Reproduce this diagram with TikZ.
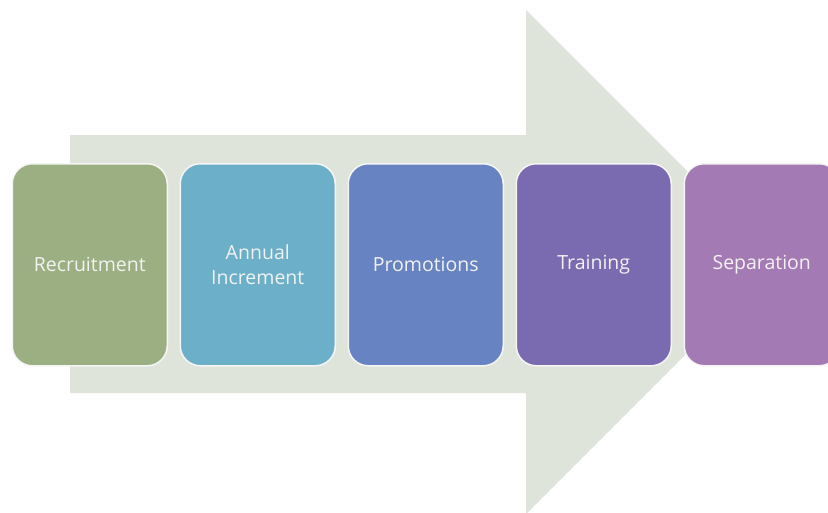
\documentclass[tikz,border=0pt]{standalone}
\usepackage{fontspec}
\setmainfont{Open Sans}
\usetikzlibrary{positioning}
\definecolor{ArrowClr}{rgb}{0.875,0.894,0.855}
\definecolor{RecClr}{rgb}{0.612,0.686,0.510}
\definecolor{IncClr}{rgb}{0.420,0.686,0.788}
\definecolor{ProClr}{rgb}{0.408,0.514,0.761}
\definecolor{TrnClr}{rgb}{0.478,0.416,0.686}
\definecolor{SepClr}{rgb}{0.639,0.478,0.706}
\definecolor{TextClr}{rgb}{0.95,0.95,0.95}

\tikzset{
  stage/.style={draw=white!92!gray,line width=1.5pt,rounded corners=20pt,
    minimum width=155pt,minimum height=202pt,inner sep=2pt,
    text=TextClr,font=\fontsize{19.5}{25}\selectfont,align=center},
}

\begin{document}
\begin{tikzpicture}[x=1pt,y=-1pt]
\useasboundingbox (0,0) rectangle (828,512);
\clip (0,0) rectangle (828,512);

% big background arrow
\fill[ArrowClr] (70,135) -- (526,135) -- (526,10) -- (778,262)
  -- (526,514) -- (526,393) -- (70,393) -- cycle;

% process stages
\node[stage,fill=RecClr,anchor=north west] (rec) at (11.5,163) {Recruitment};
\node[stage,fill=IncClr,right=11.5pt of rec] (inc) {Annual\\Increment};
\node[stage,fill=ProClr,right=11.5pt of inc] (pro) {Promotions};
\node[stage,fill=TrnClr,right=11.5pt of pro] (trn) {Training};
\node[stage,fill=SepClr,right=11.5pt of trn] (sep) {Separation};

\end{tikzpicture}
\end{document}
